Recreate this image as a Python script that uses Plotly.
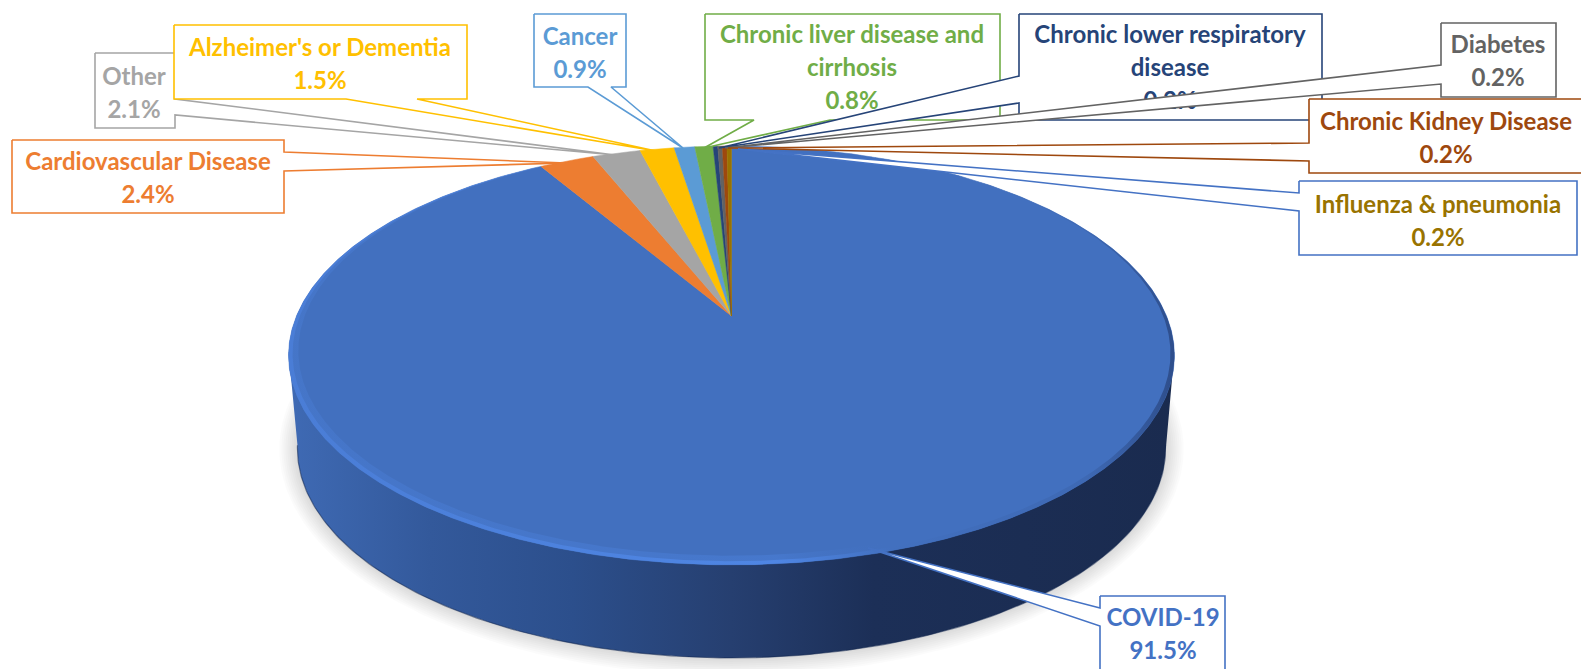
import numpy as np
import plotly.graph_objects as go

# ---------- data ----------
categories = ["COVID-19", "Cardiovascular Disease", "Other", "Alzheimer's or Dementia", "Cancer",
              "Chronic liver disease and cirrhosis", "Chronic lower respiratory disease", "Diabetes",
              "Chronic Kidney Disease", "Influenza & pneumonia"]
values = [91.5, 2.4, 2.1, 1.5, 0.9, 0.8, 0.2, 0.2, 0.2, 0.2]
value_labels = ["91.5%", "2.4%", "2.1%", "1.5%", "0.9%", "0.8%", "0.2%", "0.2%", "0.2%", "0.2%"]
slice_colors = ["#4270BF", "#ED7D31", "#A5A5A5", "#FFC000", "#5B9BD5",
                "#70AD47", "#264478", "#636363", "#9E480E", "#997300"]
text_colors = ["#4472C4", "#ED7D31", "#A5A5A5", "#FFC000", "#5B9BD5",
               "#70AD47", "#264478", "#636363", "#9E480E", "#997300"]
border_colors = ["#4472C4", "#ED7D31", "#A5A5A5", "#FFC000", "#5B9BD5",
                 "#70AD47", "#264478", "#636363", "#9E480E", "#4472C4"]
label_lines = [["COVID-19"], ["Cardiovascular Disease"], ["Other"], ["Alzheimer's or Dementia"], ["Cancer"],
               ["Chronic liver disease and", "cirrhosis"], ["Chronic lower respiratory", "disease"], ["Diabetes"],
               ["Chronic Kidney Disease"], ["Influenza & pneumonia"]]

# ---------- layout of the callouts (pixels): outline, text centre x, first line y ----------
callout_outline = [
    [(1100, 596), (1225, 596), (1225, 680), (1100, 680), (1100, 626), (868, 548), (1100, 608)],
    [(12, 140), (284, 140), (284, 152), (566, 163), (284, 171), (284, 213), (12, 213)],
    [(95, 53), (175, 53), (175, 99), (615, 155), (175, 115), (175, 128), (95, 128)],
    [(174, 25), (467, 25), (467, 99), (417, 99), (656, 151), (346, 99), (174, 99)],
    [(534, 14), (626, 14), (626, 87), (611, 87), (683, 148), (588, 87), (534, 87)],
    [(705, 14), (1000, 14), (1000, 120), (830, 120), (704, 148), (754, 120), (705, 120)],
    [(1019, 14), (1322, 14), (1322, 120), (1019, 120), (1019, 103), (719, 148), (1019, 76)],
    [(1441, 23), (1556, 23), (1556, 97), (1441, 97), (1441, 84), (725, 148), (1441, 65)],
    [(1309, 99), (1590, 99), (1590, 173), (1309, 173), (1309, 161), (728, 148), (1309, 143)],
    [(1299, 181), (1577, 181), (1577, 255), (1299, 255), (1299, 211), (738, 149), (1299, 193)],
]
text_cx = [1163, 148, 134, 320, 580, 852, 1170, 1498, 1446, 1438]
text_y0 = [620, 164, 79, 50, 39, 37, 37, 47, 124, 207]
line_step = 33
font_size = 24
font_family = "Lato"

# ---------- pie projection ----------
CX, TOP_Y, APEX_Y = 731.5, 146.0, 316.0
A, B, K = 435.0, 202.0, 0.1885
DEPTH = 93.0
BOTTOM_SCALE = 0.98


def project(theta, s=1.0, bottom=False):
    u, v = np.sin(theta), np.cos(theta)
    den = 1 + K * v
    if bottom:
        return CX + BOTTOM_SCALE * A * u / den, APEX_Y + DEPTH - B * v / den
    x = CX + A * u / den
    y = APEX_Y - B * v / den
    return CX + (x - CX) * s, TOP_Y + (y - TOP_Y) * s


def arc(start, end, s=1.0):
    n = max(3, int(abs(end - start) / np.radians(0.4)))
    return project(np.linspace(start, end, n), s)


cum = np.concatenate([[0], np.cumsum(values)]) / np.sum(values) * 2 * np.pi
covid_start, covid_end = cum[0], cum[1]

fig = go.Figure()


def poly(x, y, **kw):
    fig.add_trace(go.Scatter(x=list(x), y=list(y), mode="lines", fill="toself",
                             line=kw.pop("line", dict(width=0)),
                             hoverinfo="skip", showlegend=False, **kw))


# soft shadow under the body
full = np.linspace(0, 2 * np.pi, 361)
bx, by = project(full, bottom=True)
for grow in np.arange(2, 20, 2):
    sx = (CX + (bx - CX) * (1 + grow / 430))
    sy = (APEX_Y + DEPTH + 30 + (by - APEX_Y - DEPTH - 30) * (1 + grow / 220))
    poly(sx, sy, fillcolor="rgba(0,0,0,0.016)")

# side wall
t_front = np.linspace(np.radians(100), np.radians(260), 241)
fx, fy = project(t_front, bottom=True)
topl = project(np.radians(260))
topr = project(np.radians(100))
body_x = np.concatenate([[topr[0]], fx, [topl[0]]])
body_y = np.concatenate([[topr[1]], fy, [topl[1]]])
poly(body_x, body_y, fillgradient=dict(type="horizontal", colorscale=[
    [0, "#3F6AB4"], [0.16, "#33599B"], [0.32, "#2C4F8C"], [0.5, "#263F70"], [0.66, "#1C2F57"], [1, "#1A2B4F"]]))
fig.add_trace(go.Scatter(x=list(fx), y=list(fy), mode="lines",
                         line=dict(color="rgba(20,40,80,0.55)", width=1.2),
                         hoverinfo="skip", showlegend=False))

# slices of the top face
for i in range(len(values)):
    ax, ay = arc(cum[i], cum[i + 1])
    x = np.concatenate([[CX], ax, [CX]])
    y = np.concatenate([[APEX_Y], ay, [APEX_Y]])
    poly(x, y, fillcolor=slice_colors[i],
         line=dict(width=0.5, color=slice_colors[i]))
    if i == 0:
        # bevel on the rim of the large slice
        for s_in, stops in [
            (0.978, [[0, "rgba(79,134,228,0.25)"], [0.55, "rgba(79,134,228,0.35)"], [0.68, "rgba(66,112,191,0)"], [1, "rgba(66,112,191,0)"]]),
            (0.991, [[0, "#4A7DD6"], [0.55, "#4F86E4"], [0.68, "#4270BF"], [0.9, "#3E69B4"], [1, "#2E4E8C"]]),
        ]:
            ox, oy = arc(covid_start + 0.02, covid_end - 0.02)
            ix, iy = arc(covid_start + 0.02, covid_end - 0.02, s_in)
            poly(np.concatenate([ox, ix[::-1]]), np.concatenate([oy, iy[::-1]]),
                 fillgradient=dict(type="horizontal", colorscale=stops))

# callouts, drawn in series order so later ones cover earlier ones
for i in range(len(categories)):
    pts = callout_outline[i] + [callout_outline[i][0]]
    fig.add_trace(go.Scatter(x=[p[0] for p in pts], y=[p[1] for p in pts], mode="lines",
                             fill="toself", fillcolor="white",
                             line=dict(color=border_colors[i], width=1.6),
                             hoverinfo="skip", showlegend=False))
    lines = label_lines[i] + [value_labels[i]]
    fig.add_trace(go.Scatter(x=[text_cx[i]] * len(lines),
                             y=[text_y0[i] + n * line_step for n in range(len(lines))],
                             mode="text", text=lines, textposition="middle center",
                             textfont=dict(family=font_family, size=font_size, color=text_colors[i], weight="bold"),
                             hoverinfo="skip", showlegend=False))

fig.update_layout(
    width=1581, height=669, margin=dict(l=0, r=0, t=0, b=0),
    paper_bgcolor="white", plot_bgcolor="white", showlegend=False,
    xaxis=dict(range=[0, 1581], visible=False, fixedrange=True),
    yaxis=dict(range=[669, 0], visible=False, fixedrange=True),
)
fig.write_html("out.html", config=dict(displayModeBar=False),
               post_script="document.body.style.margin='0';document.documentElement.style.overflow='hidden';")
